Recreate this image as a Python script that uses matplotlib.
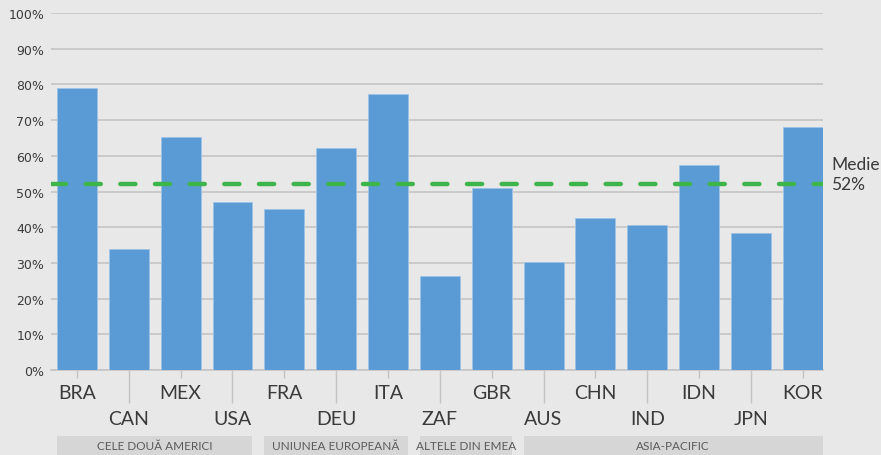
import matplotlib.pyplot as plt
from matplotlib.patches import Rectangle

# data
countries = ['BRA', 'CAN', 'MEX', 'USA', 'FRA', 'DEU', 'ITA', 'ZAF',
             'GBR', 'AUS', 'CHN', 'IND', 'IDN', 'JPN', 'KOR']
values = [79, 34, 65.4, 47, 45, 62.2, 77.3, 26.2, 51, 30.3, 42.7, 40.7, 57.3, 38.5, 68.2]
average = 52
group_names = ['CELE DOUĂ AMERICI', 'UNIUNEA EUROPEANĂ', 'ALTELE DIN EMEA', 'ASIA-PACIFIC']
group_first = [0, 4, 7, 9]
group_last = [3, 6, 8, 14]
yticks = [0, 10, 20, 30, 40, 50, 60, 70, 80, 90, 100]

bg = '#E8E8E8'
bar_color = '#5B9BD5'
grid_color = '#C4C4C4'
text_color = '#3A3A3A'

plt.rcParams['font.family'] = ['Lato', 'DejaVu Sans']

fig = plt.figure(figsize=(8.81, 4.56), dpi=100, facecolor=bg)
ax = fig.add_axes([51 / 881, 85 / 456, 772 / 881, 357 / 456])
ax.set_facecolor(bg)

x = list(range(len(countries)))
bar_w = 0.77
ax.bar(x, values, width=bar_w, color=bar_color, edgecolor='#9DC3E6', linewidth=0.6, zorder=3)

# average line
ax.axhline(average, color='#3DB54A', linewidth=3.2, linestyle=(0, (3.4, 4.4)),
           dash_capstyle='round', zorder=4)
ax.text(1.011, (average + 3.0) / 100, 'Medie\n' + str(average) + '%', transform=ax.transAxes,
        fontsize=12.5, color=text_color, va='center', ha='left', linespacing=1.3)

ax.set_ylim(0, 100)
ax.set_xlim(-0.5, 14.39)
ax.set_yticks(yticks)
ax.set_yticklabels([str(v) + '%' for v in yticks], fontsize=9,
                   family=['Liberation Sans Narrow', 'DejaVu Sans'], color=text_color)
ax.yaxis.grid(True, color=grid_color, linewidth=1.2, zorder=0)
ax.tick_params(axis='y', length=0, pad=5)

for s in ['top', 'right', 'left']:
    ax.spines[s].set_visible(False)
ax.spines['bottom'].set_color(grid_color)
ax.spines['bottom'].set_linewidth(1.2)

# staggered category labels
ax.set_xticks(x[0::2])
ax.set_xticklabels(countries[0::2])
ax.set_xticks(x[1::2], minor=True)
ax.set_xticklabels(countries[1::2], minor=True)
ax.tick_params(axis='x', which='major', length=6, width=1, color=grid_color,
               pad=4, labelsize=14, labelcolor=text_color)
ax.tick_params(axis='x', which='minor', length=24, width=1, color=grid_color,
               pad=5, labelsize=14, labelcolor=text_color)

# region bands under the labels
trans = ax.get_xaxis_transform()
for name, a, b in zip(group_names, group_first, group_last):
    x0 = a - bar_w / 2
    x1 = b + bar_w / 2
    ax.add_patch(Rectangle((x0, -0.238), x1 - x0, 0.054, transform=trans,
                           facecolor='#D6D6D6', edgecolor='none', clip_on=False))
    ax.text((x0 + x1) / 2, -0.212, name, transform=trans, ha='center', va='center',
            fontsize=8.5, color='#5A5A5A')

fig.savefig('out.png', dpi=100, facecolor=bg)
